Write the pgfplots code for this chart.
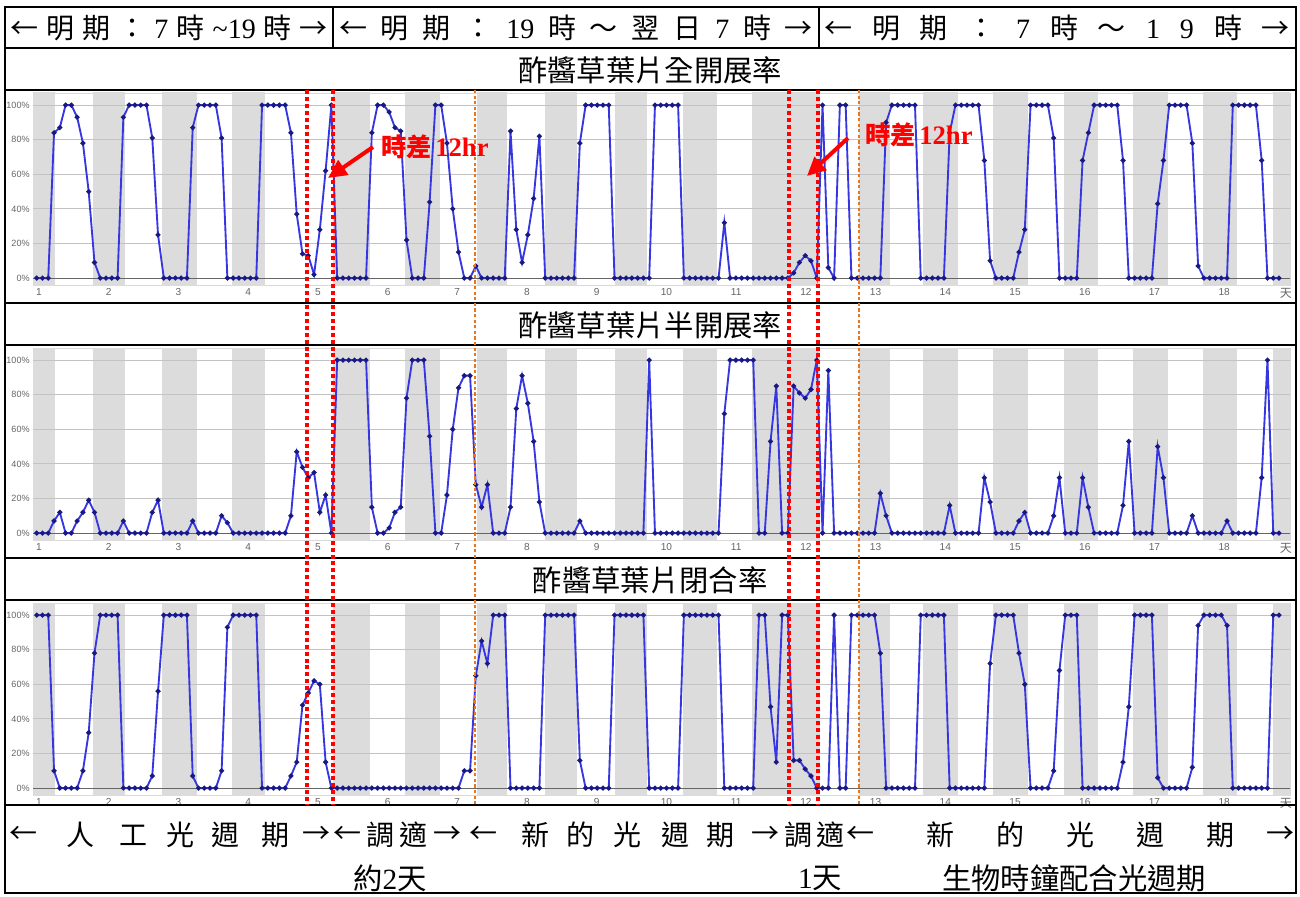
\documentclass[border=0pt]{standalone}
\usepackage{fontspec}
\setmainfont{Liberation Serif}
\newfontfamily\cjk{Noto Sans CJK TC}
\newfontfamily\ser{Liberation Serif}
\newfontfamily\lab{Liberation Sans}
\usepackage{pgfplots}
\pgfplotsset{compat=1.18}
\usetikzlibrary{arrows.meta}
\newdimen\pxu \pxu=0.75pt
\definecolor{bandc}{RGB}{220,220,220}
\definecolor{gridc}{RGB}{195,195,195}
\definecolor{lineblue}{RGB}{55,55,225}
\definecolor{markblue}{RGB}{25,25,130}
\definecolor{orangeL}{RGB}{232,118,28}
\newcommand{\band}[2]{\addplot[fill=bandc,draw=none,forget plot] coordinates {(#1,-10) (#2,-10) (#2,120) (#1,120)} -- cycle;}
\newcommand{\hg}[1]{\addplot[gridc,line width=0.6pt,forget plot] coordinates {(-2,#1) (220,#1)};}
\newcommand{\background}{%
\band{-3}{3.17}\band{9.75}{15.28}\band{21.7}{27.75}\band{33.8}{39.5}%
\band{51.3}{57.7}\band{63.8}{69.8}\band{76.2}{81.4}\band{88}{93.5}\band{100.1}{105.6}\band{111.9}{117.8}\band{123.8}{135.6}%
\band{142.3}{147.6}\band{153.4}{159.5}\band{165.5}{171.6}\band{177.7}{183.7}\band{189.8}{195.7}\band{201.9}{207.8}\band{214}{222}%
\hg{20}\hg{40}\hg{60}\hg{80}\hg{100}%
\addplot[black!60,line width=0.8pt,forget plot] coordinates {(-2,0) (220,0)};}
\pgfplotsset{panel/.style={
 anchor=south west, scale only axis, width=942.75pt, height=144pt,
 xmin=-0.64, xmax=216.9, ymin=-4, ymax=107,
 axis line style={draw=gray!30},
 xtick={0.4,12.47,24.53,36.6,48.66,60.73,72.79,84.86,96.92,108.99,121.05,133.12,145.18,157.25,169.31,181.38,193.44,205.51,216.2},
 xticklabels={1,2,3,4,5,6,7,8,9,10,11,12,13,14,15,16,17,18,{\cjk\fontsize{9}{10}\selectfont 天}},
 ytick={0,20,40,60,80,100}, yticklabels={0\%,20\%,40\%,60\%,80\%,100\%},
 major tick length=0pt,
 tick label style={font=\lab\fontsize{6.8}{7.5}\selectfont, text=black!60},
 xticklabel style={font=\lab\fontsize{7.6}{8}\selectfont, yshift=1pt},
 yticklabel style={xshift=1pt},
 clip=true},
 dat/.style={lineblue, line width=1.4pt, mark=*, mark size=1.1pt, mark options={fill=markblue, draw=markblue}}}
\begin{document}
\begin{tikzpicture}
\begin{scope}[x=0.75pt,y=-0.75pt]
\path[use as bounding box] (0,0) rectangle (1300,895);
\fill[white] (0,0) rectangle (1300,895);
\end{scope}
% Panel 1
\begin{axis}[panel, at={(24.75pt,-213.75pt)}]
\background
\addplot[dat] coordinates {(0,0)(1,0)(2,0)(3,84)(4,87)(5,100)(6,100)(7,93)(8,78)(9,50)(10,9)(11,0)(12,0)(13,0)(14,0)(15,93)(16,100)(17,100)(18,100)(19,100)(20,81)(21,25)(22,0)(23,0)(24,0)(25,0)(26,0)(27,87)(28,100)(29,100)(30,100)(31,100)(32,81)(33,0)(34,0)(35,0)(36,0)(37,0)(38,0)(39,100)(40,100)(41,100)(42,100)(43,100)(44,84)(45,37)(46,14)(47,13)(48,2)(49,28)(50,62)(51,100)(52,0)(53,0)(54,0)(55,0)(56,0)(57,0)(58,84)(59,100)(60,100)(61,96)(62,87)(63,85)(64,22)(65,0)(66,0)(67,0)(68,44)(69,100)(70,100)(71,78)(72,40)(73,15)(74,0)(75,0)(76,7)(77,0)(78,0)(79,0)(80,0)(81,0)(82,85)(83,28)(84,9)(85,25)(86,46)(87,82)(88,0)(89,0)(90,0)(91,0)(92,0)(93,0)(94,78)(95,100)(96,100)(97,100)(98,100)(99,100)(100,0)(101,0)(102,0)(103,0)(104,0)(105,0)(106,0)(107,100)(108,100)(109,100)(110,100)(111,100)(112,0)(113,0)(114,0)(115,0)(116,0)(117,0)(118,0)(119,32)(120,0)(121,0)(122,0)(123,0)(124,0)(125,0)(126,0)(127,0)(128,0)(129,0)(130,0)(131,3)(132,9)(133,13)(134,10)(135,0)(136,100)(137,6)(138,0)(139,100)(140,100)(141,0)(142,0)(143,0)(144,0)(145,0)(146,0)(147,90)(148,100)(149,100)(150,100)(151,100)(152,100)(153,0)(154,0)(155,0)(156,0)(157,0)(158,84)(159,100)(160,100)(161,100)(162,100)(163,100)(164,68)(165,10)(166,0)(167,0)(168,0)(169,0)(170,15)(171,28)(172,100)(173,100)(174,100)(175,100)(176,81)(177,0)(178,0)(179,0)(180,0)(181,68)(182,84)(183,100)(184,100)(185,100)(186,100)(187,100)(188,68)(189,0)(190,0)(191,0)(192,0)(193,0)(194,43)(195,68)(196,100)(197,100)(198,100)(199,100)(200,78)(201,7)(202,0)(203,0)(204,0)(205,0)(206,0)(207,100)(208,100)(209,100)(210,100)(211,100)(212,68)(213,0)(214,0)(215,0)};
\end{axis}
% Panel 2
\begin{axis}[panel, at={(24.75pt,-405pt)}]
\background
\addplot[dat] coordinates {(0,0)(1,0)(2,0)(3,7)(4,12)(5,0)(6,0)(7,7)(8,12)(9,19)(10,12)(11,0)(12,0)(13,0)(14,0)(15,7)(16,0)(17,0)(18,0)(19,0)(20,12)(21,19)(22,0)(23,0)(24,0)(25,0)(26,0)(27,7)(28,0)(29,0)(30,0)(31,0)(32,10)(33,6)(34,0)(35,0)(36,0)(37,0)(38,0)(39,0)(40,0)(41,0)(42,0)(43,0)(44,10)(45,47)(46,38)(47,32)(48,35)(49,12)(50,22)(51,0)(52,100)(53,100)(54,100)(55,100)(56,100)(57,100)(58,15)(59,0)(60,0)(61,3)(62,12)(63,15)(64,78)(65,100)(66,100)(67,100)(68,56)(69,0)(70,0)(71,22)(72,60)(73,84)(74,91)(75,91)(76,28)(77,15)(78,28)(79,0)(80,0)(81,0)(82,15)(83,72)(84,91)(85,75)(86,53)(87,18)(88,0)(89,0)(90,0)(91,0)(92,0)(93,0)(94,7)(95,0)(96,0)(97,0)(98,0)(99,0)(100,0)(101,0)(102,0)(103,0)(104,0)(105,0)(106,100)(107,0)(108,0)(109,0)(110,0)(111,0)(112,0)(113,0)(114,0)(115,0)(116,0)(117,0)(118,0)(119,69)(120,100)(121,100)(122,100)(123,100)(124,100)(125,0)(126,0)(127,53)(128,85)(129,0)(130,0)(131,85)(132,81)(133,78)(134,83)(135,100)(136,0)(137,94)(138,0)(139,0)(140,0)(141,0)(142,0)(143,0)(144,0)(145,0)(146,23)(147,10)(148,0)(149,0)(150,0)(151,0)(152,0)(153,0)(154,0)(155,0)(156,0)(157,0)(158,16)(159,0)(160,0)(161,0)(162,0)(163,0)(164,32)(165,18)(166,0)(167,0)(168,0)(169,0)(170,7)(171,12)(172,0)(173,0)(174,0)(175,0)(176,10)(177,32)(178,0)(179,0)(180,0)(181,32)(182,15)(183,0)(184,0)(185,0)(186,0)(187,0)(188,16)(189,53)(190,0)(191,0)(192,0)(193,0)(194,50)(195,32)(196,0)(197,0)(198,0)(199,0)(200,10)(201,0)(202,0)(203,0)(204,0)(205,0)(206,7)(207,0)(208,0)(209,0)(210,0)(211,0)(212,32)(213,100)(214,0)(215,0)};
\end{axis}
% Panel 3
\begin{axis}[panel, at={(24.75pt,-596.25pt)}]
\background
\addplot[dat] coordinates {(0,100)(1,100)(2,100)(3,10)(4,0)(5,0)(6,0)(7,0)(8,10)(9,32)(10,78)(11,100)(12,100)(13,100)(14,100)(15,0)(16,0)(17,0)(18,0)(19,0)(20,7)(21,56)(22,100)(23,100)(24,100)(25,100)(26,100)(27,7)(28,0)(29,0)(30,0)(31,0)(32,10)(33,93)(34,100)(35,100)(36,100)(37,100)(38,100)(39,0)(40,0)(41,0)(42,0)(43,0)(44,7)(45,15)(46,48)(47,55)(48,62)(49,60)(50,15)(51,0)(52,0)(53,0)(54,0)(55,0)(56,0)(57,0)(58,0)(59,0)(60,0)(61,0)(62,0)(63,0)(64,0)(65,0)(66,0)(67,0)(68,0)(69,0)(70,0)(71,0)(72,0)(73,0)(74,10)(75,10)(76,65)(77,85)(78,72)(79,100)(80,100)(81,100)(82,0)(83,0)(84,0)(85,0)(86,0)(87,0)(88,100)(89,100)(90,100)(91,100)(92,100)(93,100)(94,16)(95,0)(96,0)(97,0)(98,0)(99,0)(100,100)(101,100)(102,100)(103,100)(104,100)(105,100)(106,0)(107,0)(108,0)(109,0)(110,0)(111,0)(112,100)(113,100)(114,100)(115,100)(116,100)(117,100)(118,100)(119,0)(120,0)(121,0)(122,0)(123,0)(124,0)(125,100)(126,100)(127,47)(128,15)(129,100)(130,100)(131,16)(132,16)(133,11)(134,7)(135,0)(136,0)(137,0)(138,100)(139,0)(140,0)(141,100)(142,100)(143,100)(144,100)(145,100)(146,78)(147,0)(148,0)(149,0)(150,0)(151,0)(152,0)(153,100)(154,100)(155,100)(156,100)(157,100)(158,0)(159,0)(160,0)(161,0)(162,0)(163,0)(164,0)(165,72)(166,100)(167,100)(168,100)(169,100)(170,78)(171,60)(172,0)(173,0)(174,0)(175,0)(176,10)(177,68)(178,100)(179,100)(180,100)(181,0)(182,0)(183,0)(184,0)(185,0)(186,0)(187,0)(188,15)(189,47)(190,100)(191,100)(192,100)(193,100)(194,6)(195,0)(196,0)(197,0)(198,0)(199,0)(200,12)(201,94)(202,100)(203,100)(204,100)(205,100)(206,94)(207,0)(208,0)(209,0)(210,0)(211,0)(212,0)(213,0)(214,100)(215,100)};
\end{axis}
\begin{scope}[x=0.75pt,y=-0.75pt]
% table frame
\draw[line width=1.4pt] (5,7) rectangle (1296,893);
\foreach \yy in {48,90,303,345,558,600,805} \draw[line width=1.4pt] (5,\yy) -- (1296,\yy);
\draw[line width=1.4pt] (333,7) -- (333,48);
\draw[line width=1.4pt] (819,7) -- (819,48);
% header
\node[font=\cjk\fontsize{21}{24}\selectfont] at (169,28) {\makebox[318\pxu]{←\hfill 明\hfill 期\hfill ：\hfill{\ser 7}\hfill 時\hfill{\ser\textasciitilde 19}\hfill 時\hfill →}};
\node[font=\cjk\fontsize{21}{24}\selectfont] at (576,28) {\makebox[474\pxu]{←\hfill 明\hfill 期\hfill ：\hfill{\ser 19}\hfill 時\hfill ～\hfill 翌\hfill 日\hfill{\ser 7}\hfill 時\hfill →}};
\node[font=\cjk\fontsize{21}{24}\selectfont] at (1057,28) {\makebox[466\pxu]{←\hfill 明\hfill 期\hfill ：\hfill{\ser 7}\hfill 時\hfill ～\hfill{\ser 1}\hfill{\ser 9}\hfill 時\hfill →}};
% titles
\node[font=\cjk\fontsize{22}{24}\selectfont] at (650,70) {酢醬草葉片全開展率};
\node[font=\cjk\fontsize{22}{24}\selectfont] at (650,325) {酢醬草葉片半開展率};
\node[font=\cjk\fontsize{22}{24}\selectfont] at (650,580) {酢醬草葉片閉合率};
% footer
\foreach \xx/\ch in {23/←,80/人,133/工,180/光,225/週,275/期,316/→,347/←,380/調,413/適,447/→,483/←,535/新,580/的,627/光,675/週,720/期,765/→,798/調,830/適,860/←,940/新,1010/的,1080/光,1150/週,1220/期,1280/→}
  \node[font=\cjk\fontsize{21}{24}\selectfont] at (\xx,835) {\ch};
\node[font=\cjk\fontsize{22}{24}\selectfont] at (390,878) {約{\ser 2}天};
\node[font=\cjk\fontsize{22}{24}\selectfont] at (820,878) {{\ser 1}天};
\node[font=\cjk\fontsize{22}{24}\selectfont] at (1074,878) {生物時鐘配合光週期};
% dotted markers
\foreach \xx in {307,333,789,818} \draw[red, line width=2.3pt, dash pattern=on 3pt off 2.2pt] (\xx,90) -- (\xx,805);
\foreach \xx in {475,859} \draw[orangeL, line width=2.1pt, dash pattern=on 2.4pt off 1.8pt] (\xx,90) -- (\xx,805);
% arrows and notes
\draw[red, line width=3pt, -{Triangle[length=14pt,width=13pt]}] (373,147) -- (328,178);
\draw[red, line width=3pt, -{Triangle[length=14pt,width=13pt]}] (848,138) -- (807,176);
\node[anchor=west, text=red, inner sep=0pt] at (381,147) {{\cjk\bfseries\fontsize{19}{20}\selectfont 時差} {\ser\bfseries\fontsize{20}{21}\selectfont 12hr}};
\node[anchor=west, text=red, inner sep=0pt] at (865,135) {{\cjk\bfseries\fontsize{19}{20}\selectfont 時差} {\ser\bfseries\fontsize{20}{21}\selectfont 12hr}};
\end{scope}
\end{tikzpicture}
\end{document}
